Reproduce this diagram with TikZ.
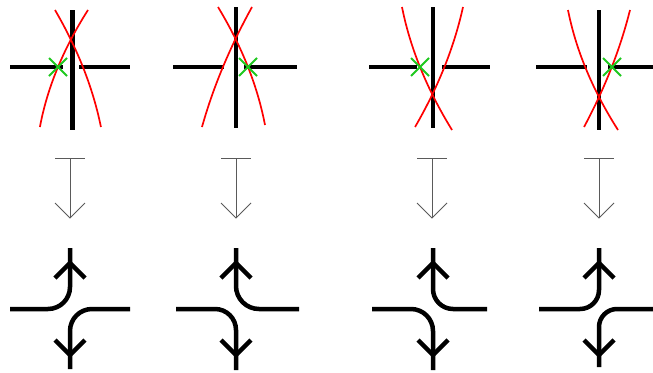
\documentclass[tikz,border=0pt]{standalone}
\definecolor{xgreen}{RGB}{30,200,30}
\definecolor{xgray}{RGB}{90,90,90}
\tikzset{
  blk/.style={line width=4.5pt, black},
  redc/.style={red, line width=1.7pt, samples=50, variable=\t},
  grn/.style={xgreen, line width=1.9pt},
  gry/.style={xgray, line width=0.9pt},
}
\begin{document}
\begin{tikzpicture}[x=1pt,y=-1pt]
\useasboundingbox (0,0) rectangle (653,372);

% ---------- top row: black crosses ----------
\draw[blk] (72.7,10) -- (72.7,130);
\draw[blk] (10,67) -- (63,67);
\draw[blk] (79,67) -- (130,67);

\draw[blk] (236,7) -- (236,128);
\draw[blk] (173,67) -- (224,67);
\draw[blk] (244,67) -- (297,67);

\draw[blk] (433,7) -- (433,128);
\draw[blk] (369,67) -- (417,67);
\draw[blk] (442,67) -- (490,67);

\draw[blk] (599,10) -- (599,130);
\draw[blk] (536,67) -- (587,67);
\draw[blk] (608,67) -- (653,67);

% ---------- red curves (x as quadratic in y) ----------
\draw[redc] plot[domain=10:127] ({55+0.5333*(\t-10)-0.001611*(\t-10)*(\t-40)}, \t);
\draw[redc] plot[domain=10:127] ({88-0.5263*(\t-10)+0.00193*(\t-10)*(\t-67)}, \t);

\draw[redc] plot[domain=7:125] ({218+0.5*(\t-7)-0.001754*(\t-7)*(\t-67)}, \t);
\draw[redc] plot[domain=7:127] ({252-0.515*(\t-7)+0.001133*(\t-7)*(\t-40)}, \t);

\draw[redc] plot[domain=7:130] ({402+0.3*(\t-7)+0.00169*(\t-7)*(\t-67)}, \t);
\draw[redc] plot[domain=7:127] ({463-0.3488*(\t-7)-0.0015*(\t-7)*(\t-93)}, \t);

\draw[redc] plot[domain=10:130] ({568+0.3563*(\t-10)+0.00183*(\t-10)*(\t-97)}, \t);
\draw[redc] plot[domain=10:127] ({630-0.3563*(\t-10)-0.001228*(\t-10)*(\t-97)}, \t);

% ---------- green crosses ----------
\foreach \gx/\gy in {58/67, 248/67, 420/67, 612/67}{
  \draw[grn] (\gx,\gy) ++(-9,-9) -- ++(18,18);
  \draw[grn] (\gx,\gy) ++(-9,9) -- ++(18,-18);
}

% ---------- gray arrows ----------
\foreach \ax [count=\i] in {70,236,432,599}{
  \coordinate (t\i) at (\ax,158);
  \coordinate (b\i) at (\ax,218);
  \draw[gry] (t\i) ++(-15,0) -- ++(30,0);
  \draw[gry] (t\i) -- (b\i);
  \draw[gry] (b\i) ++(-15,-15) -- (b\i) -- ++(15,-15);
}

% ---------- bottom row ----------
% panel 1
\draw[blk, rounded corners=22pt] (10,309) -- (70,309) -- (70,248);
\draw[blk, rounded corners=22pt] (130,309) -- (70,309) -- (70,369);
% panel 2
\draw[blk, rounded corners=21pt] (176,309) -- (236,309) -- (236,370);
\draw[blk, rounded corners=23pt] (299,309) -- (236,309) -- (236,248);
% panel 3
\draw[blk, rounded corners=22pt] (372,309) -- (433,309) -- (433,370);
\draw[blk, rounded corners=20pt] (487,309) -- (433,309) -- (433,248);
% panel 4
\draw[blk, rounded corners=19pt] (539,309) -- (599,309) -- (599,248);
\draw[blk, rounded corners=18pt] (653,309) -- (599,309) -- (599,367);

% arrow heads
\foreach \bx in {70,236,433,599}{
  \draw[blk] (\bx-15,278) -- (\bx,263) -- (\bx+15,278);
  \draw[blk] (\bx-15,340) -- (\bx,355) -- (\bx+15,340);
}
\end{tikzpicture}
\end{document}
